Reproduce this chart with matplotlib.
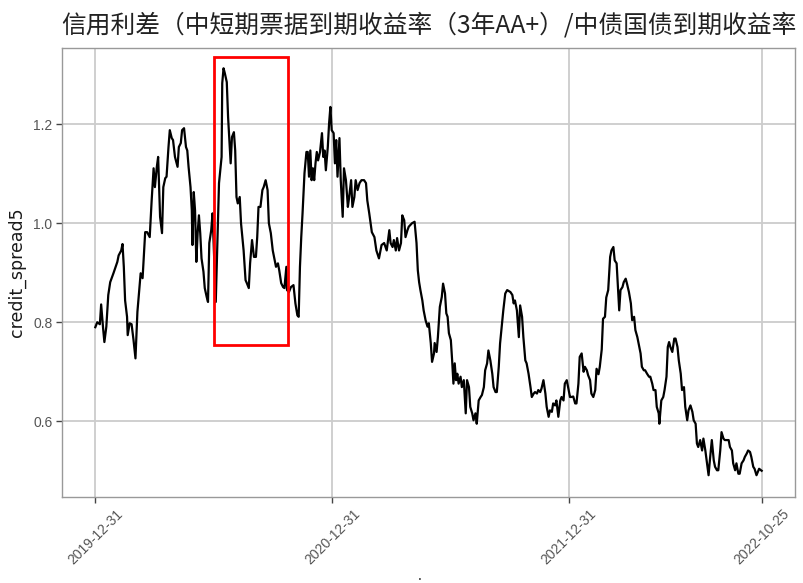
import matplotlib
matplotlib.use("Agg")
import matplotlib.pyplot as plt
import matplotlib.dates as mdates
import matplotlib.patches as mpatches
import pandas as pd
import numpy as np

plt.rcParams['font.family'] = ['Noto Sans CJK SC', 'DejaVu Sans']

title = "信用利差（中短期票据到期收益率（3年AA+）/中债国债到期收益率"
ylabel = "credit_spread5"
start_date = "2019-12-31"
tick_dates = ["2019-12-31", "2020-12-31", "2021-12-31", "2022-10-25"]

# days after start_date
days = [0, 3, 7, 9, 12, 14, 17, 20, 23, 28, 34, 36, 40, 42, 44, 46, 49, 50, 53, 56,
        59, 62, 65, 68, 70, 73, 77, 80, 84, 87, 90, 92, 95, 97, 100, 103, 105, 108, 110, 113,
        115, 118, 120, 123, 127, 129, 132, 134, 137, 140, 142, 144, 147, 149, 150, 152, 154, 156, 158, 160,
        162, 164, 167, 169, 172, 174, 176, 179, 181, 186, 191, 195, 196, 198, 200, 203, 205, 208, 209, 211,
        214, 216, 218, 220, 223, 225, 229, 232, 234, 237, 239, 242, 245, 248, 250, 252, 255, 258, 260, 263,
        266, 268, 271, 274, 277, 279, 282, 284, 287, 290, 292, 295, 296, 299, 302, 306, 309, 312, 314, 316,
        318, 320, 323, 326, 328, 330, 332, 334, 336, 338, 340, 342, 344, 347, 350, 352, 354, 356, 359, 361,
        363, 365, 368, 370, 372, 374, 377, 379, 382, 384, 387, 390, 392, 395, 397, 400, 402, 405, 408, 411,
        415, 418, 420, 423, 427, 431, 434, 438, 442, 446, 450, 454, 456, 459, 461, 464, 466, 469, 472, 474,
        477, 479, 482, 484, 489, 493, 496, 498, 500, 502, 505, 507, 510, 513, 515, 518, 520, 523, 524, 527,
        529, 532, 535, 537, 540, 542, 544, 546, 549, 551, 553, 555, 557, 559, 561, 564, 566, 569, 572, 574,
        577, 579, 582, 584, 587, 589, 592, 595, 597, 600, 602, 605, 607, 610, 613, 615, 618, 620, 623, 625,
        628, 630, 633, 636, 641, 644, 646, 648, 651, 654, 656, 659, 661, 664, 666, 669, 672, 674, 677, 679,
        682, 684, 687, 689, 692, 695, 697, 700, 702, 705, 707, 710, 712, 715, 718, 720, 723, 725, 728, 730,
        733, 735, 738, 741, 743, 746, 748, 751, 754, 756, 759, 761, 764, 766, 769, 772, 774, 777, 779, 782,
        784, 787, 789, 792, 795, 797, 800, 802, 805, 807, 809, 811, 814, 816, 819, 821, 824, 827, 829, 832,
        834, 837, 839, 842, 844, 847, 849, 852, 855, 857, 860, 862, 865, 867, 870, 871, 874, 877, 879, 882,
        884, 886, 888, 891, 894, 896, 899, 901, 904, 906, 909, 911, 914, 916, 919, 922, 924, 927, 929, 931,
        934, 937, 939, 942, 944, 947, 949, 952, 955, 957, 960, 962, 965, 967, 970, 972, 975, 978, 980, 983,
        985, 988, 990, 993, 995, 998, 1001, 1003, 1006, 1008, 1011, 1013, 1016, 1018, 1021, 1025, 1029]

spread = [0.790, 0.800, 0.796, 0.836, 0.788, 0.760, 0.791, 0.855, 0.881, 0.899, 0.922, 0.935, 0.945, 0.958, 0.912, 0.844, 0.811, 0.774, 0.798, 0.796,
          0.764, 0.727, 0.821, 0.869, 0.899, 0.889, 0.982, 0.982, 0.972, 1.046, 1.111, 1.073, 1.114, 1.134, 1.013, 0.980, 1.073, 1.091, 1.094, 1.154,
          1.188, 1.172, 1.168, 1.134, 1.114, 1.154, 1.162, 1.188, 1.192, 1.154, 1.147, 1.114, 1.073, 1.026, 0.956, 1.063, 1.026, 0.922, 0.980, 1.016,
          0.980, 0.929, 0.902, 0.869, 0.851, 0.841, 0.960, 0.986, 1.020, 0.841, 1.081, 1.134, 1.283, 1.313, 1.303, 1.285, 1.215, 1.147, 1.121, 1.174,
          1.184, 1.147, 1.053, 1.040, 1.053, 1.000, 0.945, 0.885, 0.879, 0.869, 0.919, 0.966, 0.932, 0.932, 0.972, 1.033, 1.033, 1.067, 1.073, 1.087,
          1.067, 1.000, 0.980, 0.945, 0.925, 0.912, 0.919, 0.905, 0.879, 0.871, 0.869, 0.912, 0.865, 0.861, 0.871, 0.875, 0.838, 0.814, 0.811, 0.912,
          0.972, 1.020, 1.101, 1.144, 1.144, 1.094, 1.147, 1.087, 1.111, 1.087, 1.121, 1.144, 1.127, 1.144, 1.182, 1.134, 1.147, 1.107, 1.154, 1.202,
          1.235, 1.188, 1.182, 1.121, 1.168, 1.094, 1.172, 1.087, 1.013, 1.111, 1.087, 1.033, 1.053, 1.087, 1.033, 1.053, 1.087, 1.067, 1.081, 1.087,
          1.087, 1.081, 1.046, 1.020, 0.982, 0.972, 0.945, 0.929, 0.956, 0.960, 0.945, 0.986, 0.960, 0.952, 0.966, 0.945, 0.970, 0.945, 0.960, 1.016,
          1.006, 0.972, 0.986, 0.993, 1.000, 1.003, 0.960, 0.905, 0.881, 0.865, 0.844, 0.824, 0.804, 0.791, 0.798, 0.758, 0.720, 0.737, 0.758, 0.740,
          0.770, 0.831, 0.851, 0.878, 0.858, 0.818, 0.811, 0.778, 0.764, 0.723, 0.676, 0.717, 0.683, 0.696, 0.676, 0.690, 0.669, 0.683, 0.616, 0.683,
          0.669, 0.629, 0.616, 0.602, 0.616, 0.595, 0.642, 0.649, 0.653, 0.669, 0.703, 0.717, 0.743, 0.723, 0.696, 0.669, 0.659, 0.659, 0.710, 0.757,
          0.797, 0.824, 0.858, 0.865, 0.861, 0.855, 0.838, 0.844, 0.824, 0.770, 0.834, 0.811, 0.770, 0.723, 0.717, 0.696, 0.669, 0.649, 0.656, 0.659,
          0.656, 0.663, 0.659, 0.666, 0.683, 0.656, 0.629, 0.609, 0.622, 0.619, 0.636, 0.632, 0.642, 0.609, 0.642, 0.649, 0.642, 0.676, 0.683, 0.669,
          0.649, 0.649, 0.650, 0.636, 0.636, 0.676, 0.730, 0.737, 0.700, 0.710, 0.703, 0.693, 0.683, 0.656, 0.649, 0.663, 0.706, 0.695, 0.710, 0.745,
          0.807, 0.811, 0.850, 0.865, 0.932, 0.945, 0.952, 0.925, 0.919, 0.871, 0.824, 0.865, 0.871, 0.881, 0.888, 0.878, 0.861, 0.838, 0.804, 0.811,
          0.784, 0.770, 0.757, 0.737, 0.710, 0.703, 0.703, 0.696, 0.690, 0.690, 0.676, 0.663, 0.663, 0.629, 0.616, 0.595, 0.642, 0.649, 0.663, 0.690,
          0.750, 0.760, 0.750, 0.740, 0.767, 0.767, 0.750, 0.723, 0.696, 0.663, 0.669, 0.629, 0.602, 0.622, 0.632, 0.619, 0.602, 0.595, 0.555, 0.548,
          0.562, 0.541, 0.565, 0.541, 0.521, 0.491, 0.521, 0.562, 0.521, 0.508, 0.501, 0.501, 0.541, 0.578, 0.565, 0.562, 0.562, 0.562, 0.548, 0.541,
          0.515, 0.501, 0.515, 0.494, 0.494, 0.515, 0.521, 0.528, 0.535, 0.541, 0.538, 0.528, 0.508, 0.504, 0.491, 0.504, 0.500]

# highlight box (days after start_date, value range)
box_days = (184, 298)
box_vals = (0.7535, 1.335)

dates = pd.Timestamp(start_date) + pd.to_timedelta(days, unit="D")

fig = plt.figure(figsize=(8.04, 5.83), dpi=100)
ax = fig.add_axes([62/804, 1-497/583, (795-62)/804, (497-48)/583])

ax.plot(dates, spread, color="black", lw=1.6, zorder=3)

ax.set_ylim(0.447, 1.354)
ax.set_yticks([0.6, 0.8, 1.0, 1.2])
ax.set_yticklabels(["0.6", "0.8", "1.0", "1.2"])
tick_ts = pd.to_datetime(tick_dates)
ax.set_xticks(tick_ts)
ax.set_xticklabels(tick_dates, rotation=45, ha="center")

ax.grid(True, color="#cccccc", lw=1.3, zorder=0)
ax.set_axisbelow(True)
for s in ax.spines.values():
    s.set_color("#999999")
    s.set_linewidth(1.0)
ax.tick_params(axis="both", colors="#444444", labelcolor="#555555", labelsize=10,
               length=4, width=1.0, direction="out", pad=3)
for lbl in ax.get_xticklabels() + ax.get_yticklabels():
    lbl.set_family("Liberation Sans")

ax.set_ylabel(ylabel, fontsize=12.5, color="#1a1a1a", family="DejaVu Sans", labelpad=5)
ax.set_title(title, fontsize=17.8, color="#222222", pad=11)

x0 = mdates.date2num(pd.Timestamp(start_date) + pd.Timedelta(days=box_days[0]))
x1 = mdates.date2num(pd.Timestamp(start_date) + pd.Timedelta(days=box_days[1]))
rect = mpatches.Rectangle((x0, box_vals[0]), x1 - x0, box_vals[1] - box_vals[0],
                          fill=False, edgecolor="red", lw=2.0, zorder=4, clip_on=False)
ax.add_patch(rect)

fig.text(420/804, 1-576/583, ".", fontsize=10, color="#222222", ha="center", va="center")

fig.savefig("out.png", dpi=100, facecolor="white")
